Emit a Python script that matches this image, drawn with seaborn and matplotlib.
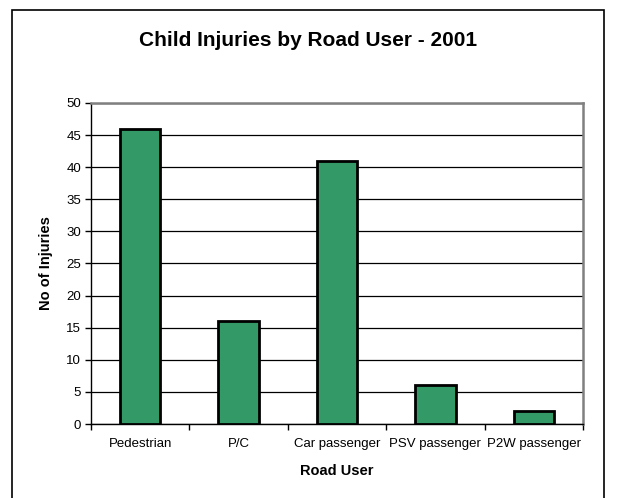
import matplotlib
matplotlib.use("Agg")
import matplotlib.pyplot as plt
import seaborn as sns
import pandas as pd
from matplotlib.patches import Rectangle
from matplotlib.ticker import MultipleLocator, FixedLocator

categories = ["Pedestrian", "P/C", "Car passenger", "PSV passenger", "P2W passenger"]
injuries = [46, 16, 41, 6, 2]

df = pd.DataFrame({"Road User": categories, "No of Injuries": injuries})

sns.set_style("white")
plt.rcParams['font.family'] = ['Liberation Sans', 'DejaVu Sans']
plt.rcParams['text.color'] = 'black'
plt.rcParams['axes.labelcolor'] = 'black'
plt.rcParams['xtick.color'] = 'black'
plt.rcParams['ytick.color'] = 'black'

W, H = 617, 498
fig = plt.figure(figsize=(W / 100, H / 100), dpi=100)
L, R, T, B = 91, 583, 103, 424
ax = fig.add_axes([L / W, 1 - B / H, (R - L) / W, (B - T) / H])

sns.barplot(data=df, x="Road User", y="No of Injuries", ax=ax, color="#339966",
            saturation=1, width=0.41, edgecolor="black", linewidth=2, zorder=3)

ax.set_ylim(0, 50)
ax.set_xlim(-0.5, 4.5)
ax.yaxis.set_major_locator(MultipleLocator(5))
ax.grid(axis="y", color="black", linewidth=0.9, zorder=0)
ax.set_axisbelow(True)

ax.xaxis.set_minor_locator(FixedLocator([-0.5, 0.5, 1.5, 2.5, 3.5, 4.5]))
ax.tick_params(axis="x", which="major", length=0, pad=10, labelsize=9.5, labelcolor="black")
ax.tick_params(axis="x", which="minor", length=4, width=1, color="black", direction="out")
ax.tick_params(axis="y", which="major", length=4, width=1, color="black", direction="out",
               labelsize=9.5, pad=3, labelcolor="black")
ax.tick_params(bottom=True, left=True, which="both")

for s in ["top", "right"]:
    ax.spines[s].set_color("#808080")
    ax.spines[s].set_linewidth(1.8)
for s in ["left", "bottom"]:
    ax.spines[s].set_color("black")
    ax.spines[s].set_linewidth(1.0)

ax.set_xlabel("Road User", fontsize=10.5, fontweight="bold", labelpad=10, color="black")
ax.set_ylabel("No of Injuries", fontsize=10.5, fontweight="bold", labelpad=10, color="black")

fig.text(308 / W, 1 - 40 / H, "Child Injuries by Road User - 2001", ha="center", va="center",
         fontsize=15, fontweight="bold", color="black")

border = Rectangle((12 / W, -0.05), (604 - 12) / W, 1 - 10 / H + 0.05, transform=fig.transFigure,
                   fill=False, edgecolor="black", linewidth=1.2, clip_on=False)
fig.patches.append(border)

fig.savefig("out.png", dpi=100)
